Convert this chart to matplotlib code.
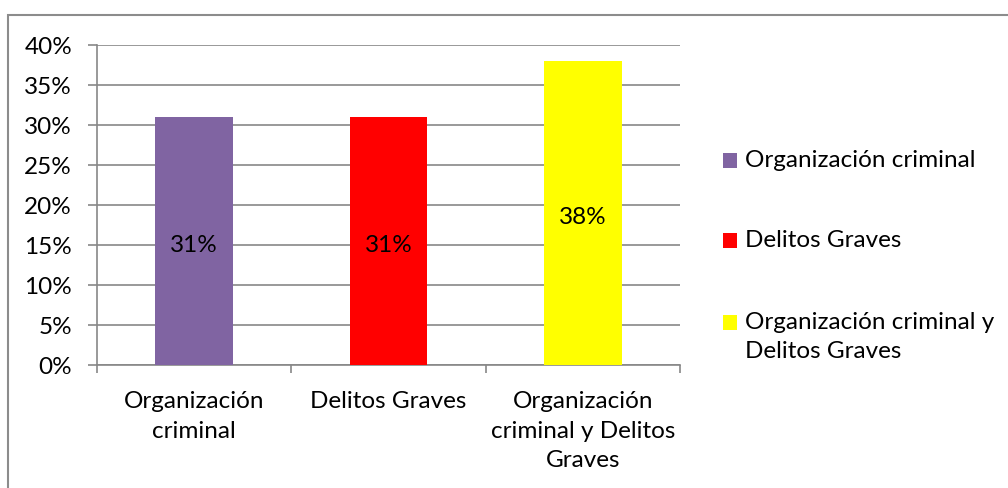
import matplotlib
matplotlib.use("Agg")
import matplotlib.pyplot as plt
from matplotlib.patches import Rectangle
from matplotlib.ticker import FuncFormatter, FixedLocator

categories = ["Organización\ncriminal", "Delitos Graves", "Organización\ncriminal y Delitos\nGraves"]
legend_labels = ["Organización criminal", "Delitos Graves", "Organización criminal y\nDelitos Graves"]
values = [0.31, 0.31, 0.38]
value_labels = ["31%", "31%", "38%"]
colors = ["#8064A2", "#FF0000", "#FFFF00"]
yticks = [0, 0.05, 0.10, 0.15, 0.20, 0.25, 0.30, 0.35, 0.40]

plt.rcParams['font.family'] = ['Lato', 'DejaVu Sans']
FS = 17.5
W, H = 1008, 488
fig = plt.figure(figsize=(W/100, H/100), dpi=100)
fig.patch.set_facecolor("white")

# outer chart border (top & left visible)
fig.patches.append(Rectangle((8/W, -0.1), 1.2, (H-15)/H + 0.1, transform=fig.transFigure,
                             fill=False, edgecolor="#8C8C8C", linewidth=1.5))

ax = fig.add_axes([97/W, (H-365)/H, (680-97)/W, (365-45)/H])
x = list(range(len(values)))
bars = ax.bar(x, values, width=0.4, color=colors, zorder=3)
for b, lab in zip(bars, value_labels):
    ax.annotate(lab, (b.get_x() + b.get_width()/2, b.get_height()/2),
                xytext=(0, -3), textcoords="offset points",
                ha="center", va="center", fontsize=FS, color="black", zorder=4)

ax.set_xlim(-0.5, len(values) - 0.5)
ax.set_ylim(0, 0.40)
ax.set_yticks(yticks)
ax.yaxis.set_major_formatter(FuncFormatter(lambda v, p: f"{v*100:.0f}%"))
ax.grid(axis="y", color="#878787", linewidth=1.2, zorder=0)
ax.set_axisbelow(True)
for s in ["top", "right"]:
    ax.spines[s].set_visible(False)
for s in ["left", "bottom"]:
    ax.spines[s].set_color("#878787")
    ax.spines[s].set_linewidth(1.2)
ax.tick_params(axis="y", length=6.5, color="#878787", width=1.2, pad=11.5, labelsize=FS)
ax.set_xticks(x)
ax.set_xticklabels(categories, fontsize=FS, linespacing=1.5)
ax.tick_params(axis="x", which="major", length=0, pad=19)
ax.xaxis.set_minor_locator(FixedLocator([-0.5, 0.5, 1.5, 2.5]))
ax.tick_params(axis="x", which="minor", length=6, color="#878787", width=1.2)

# legend
rows_y = [160, 240, 322]
for c, lab, yy in zip(colors, legend_labels, rows_y):
    fig.patches.append(Rectangle((723/W, (H-yy-7.5)/H), 14/W, 15/H, transform=fig.transFigure,
                                 facecolor=c, edgecolor="none"))
    fig.text(745/W, (H-yy+10)/H, lab, fontsize=FS, va="top", ha="left", linespacing=1.5)

fig.savefig("out.png", dpi=100)
